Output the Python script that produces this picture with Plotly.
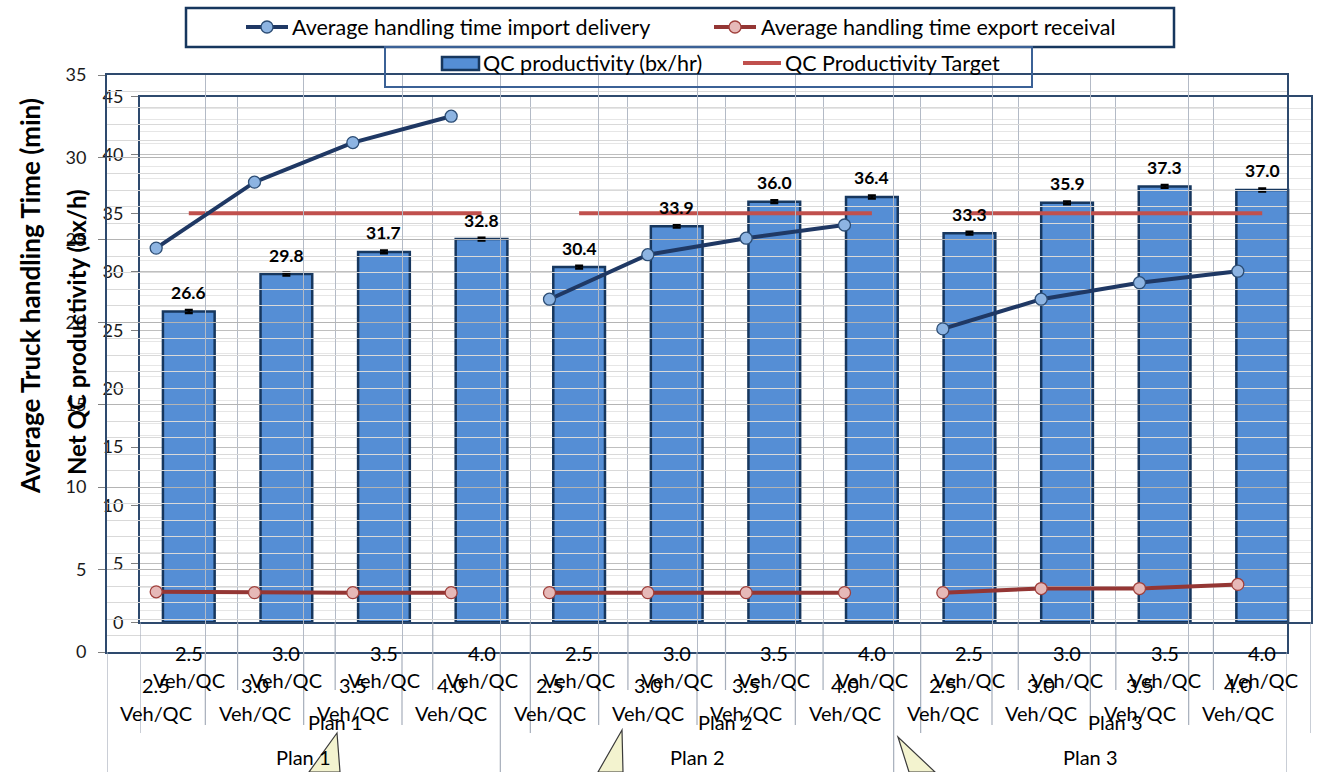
import plotly.graph_objects as go

# ---- data ----
plans = ["Plan 1", "Plan 2", "Plan 3"]
ratios = ["2.5", "3.0", "3.5", "4.0"]
ratio_unit = "Veh/QC"

qc_productivity = [26.6, 29.8, 31.7, 32.8, 30.4, 33.9, 36.0, 36.4, 33.3, 35.9, 37.3, 37.0]
qc_target = [35, 35, 35, 35, 35, 35, 35, 35, 35, 35, 35, 35]
import_delivery = [24.5, 28.5, 30.9, 32.5, 21.4, 24.1, 25.1, 25.9, 19.6, 21.4, 22.4, 23.1]
export_receival = [3.65, 3.6, 3.6, 3.6, 3.6, 3.6, 3.6, 3.6, 3.6, 3.85, 3.85, 4.1]

W, H = 1317, 772
FONT = "Lato, 'Noto Sans', sans-serif"


def fx(p):
    return p / W


def fy(p):
    return 1 - p / H


n_cat = len(plans) * len(ratios)
centers = [i + 0.5 for i in range(n_cat)]


def with_gaps(values):
    """Split a per-category series into one segment per plan."""
    xs, ys = [], []
    k = len(ratios)
    for p in range(len(plans)):
        xs += centers[p * k:(p + 1) * k] + [None]
        ys += values[p * k:(p + 1) * k] + [None]
    return xs, ys


fig = go.Figure()

# QC productivity bars (inner chart)
fig.add_trace(go.Bar(
    x=centers, y=qc_productivity, width=0.53,
    marker=dict(color="#558ED5", line=dict(color="#17375E", width=2.5)),
    error_y=dict(type="constant", value=0.12, color="black", thickness=2.5, width=4),
    name="QC productivity (bx/hr)", xaxis="x", yaxis="y", showlegend=False,
))
tx, ty = with_gaps(qc_target)
fig.add_trace(go.Scatter(
    x=tx, y=ty, mode="lines", line=dict(color="#C0504D", width=4),
    name="QC Productivity Target", xaxis="x", yaxis="y", showlegend=False,
))

# truck handling times (outer chart)
ix, iy = with_gaps(import_delivery)
fig.add_trace(go.Scatter(
    x=ix, y=iy, mode="lines+markers",
    line=dict(color="#1F3864", width=4),
    marker=dict(size=12, color="#8DB4E2", line=dict(color="#2C4D75", width=1.3)),
    name="Average handling time import delivery", xaxis="x2", yaxis="y2", showlegend=False,
))
ex, ey = with_gaps(export_receival)
fig.add_trace(go.Scatter(
    x=ex, y=ey, mode="lines+markers",
    line=dict(color="#943634", width=4),
    marker=dict(size=12, color="#E6B9B8", line=dict(color="#A0403C", width=1.3)),
    name="Average handling time export receival", xaxis="x2", yaxis="y2", showlegend=False,
))

annotations = []
shapes = []


def text(x, y, t, size, xref="paper", yref="paper", xanchor="center", **kw):
    annotations.append(dict(x=x, y=y, xref=xref, yref=yref, text=t, showarrow=False,
                            xanchor=xanchor, yanchor="middle",
                            font=dict(family=FONT, size=size, color="black"), **kw))


# value labels above the bars
for c, v in zip(centers, qc_productivity):
    text(c, v, f"<b>{v:.1f}</b>", 17.5, xref="x", yref="y", yshift=19)


# multi-level category labels and separators for both charts
def category_axis(xref, y_ratio, y_unit, y_plan, axis_px, inner_end, plan_end):
    k = len(ratios)
    for i in range(n_cat):
        text(centers[i], fy(y_ratio), ratios[i % k], 20, xref=xref)
        text(centers[i], fy(y_unit), ratio_unit, 20, xref=xref)
    for p, name in enumerate(plans):
        text(p * k + k / 2, fy(y_plan), name, 20, xref=xref)
    for b in range(n_cat + 1):
        end = plan_end if b % k == 0 else inner_end
        shapes.append(dict(type="line", xref=xref, yref="paper", x0=b, x1=b,
                           y0=fy(axis_px), y1=fy(end),
                           line=dict(color="#A6AEBB", width=1.2)))


category_axis("x", 653, 680, 722, 622.3, 690, 733)
category_axis("x2", 685, 713, 757, 652, 725, 772)

# axis titles
text(fx(30), fy(296), "<b>Average Truck handling Time (min)</b>", 26, textangle=-90)
text(fx(76), fy(332), "<b>Net QC productivity (bx/h)</b>", 24, textangle=-90)

# legend boxes
shapes.append(dict(type="rect", xref="paper", yref="paper", x0=fx(186), x1=fx(1174),
                   y0=fy(47), y1=fy(8), line=dict(color="#17375E", width=2.5),
                   fillcolor="rgba(0,0,0,0)", layer="above"))
shapes.append(dict(type="rect", xref="paper", yref="paper", x0=fx(385), x1=fx(1032),
                   y0=fy(87), y1=fy(47), line=dict(color="#3B6196", width=2),
                   fillcolor="rgba(0,0,0,0)", layer="above"))


# legend keys
def line_key(x0, x1, y, color, marker_fill=None, marker_line=None):
    shapes.append(dict(type="line", xref="paper", yref="paper", x0=fx(x0), x1=fx(x1),
                       y0=fy(y), y1=fy(y), line=dict(color=color, width=4), layer="above"))
    if marker_fill:
        xm = (x0 + x1) / 2
        shapes.append(dict(type="circle", xref="paper", yref="paper",
                           x0=fx(xm - 6), x1=fx(xm + 6), y0=fy(y + 6), y1=fy(y - 6),
                           fillcolor=marker_fill, line=dict(color=marker_line, width=1.3),
                           layer="above"))


line_key(246, 288, 27, "#1F3864", "#8DB4E2", "#2C4D75")
line_key(714, 756, 27, "#943634", "#E6B9B8", "#A0403C")
line_key(743, 781, 63, "#C0504D")
shapes.append(dict(type="rect", xref="paper", yref="paper", x0=fx(442), x1=fx(479),
                   y0=fy(70), y1=fy(57), fillcolor="#558ED5",
                   line=dict(color="#17375E", width=2.5), layer="above"))

legend_text = [
    (290, 27, "Average handling time import delivery"),
    (759, 27, "Average handling time export receival"),
    (481, 63, "QC productivity (bx/hr)"),
    (783, 63, "QC Productivity Target"),
]
for x, y, t in legend_text:
    text(fx(x), fy(y), t, 21.5, xanchor="left")


# callout pointers at the bottom
def callout(pts):
    d = "M " + " L ".join(f"{fx(a):.5f},{fy(b):.5f}" for a, b in pts) + " Z"
    shapes.append(dict(type="path", xref="paper", yref="paper", path=d,
                       fillcolor="#F3F3CF", line=dict(color="#3A3A3A", width=1.2),
                       layer="above"))


callout([(337, 733), (309, 772), (340, 772)])
callout([(622, 730), (598, 772), (623, 772)])
callout([(898, 737), (909, 772), (935, 772)])

tick_font = dict(family=FONT, size=18, color="#1A1A1A")
AX_LINE = "#2E4A6E"

fig.update_layout(
    width=W, height=H, template="none",
    margin=dict(l=0, r=0, t=0, b=0),
    paper_bgcolor="white", plot_bgcolor="rgba(0,0,0,0)",
    showlegend=False,
    bargap=0.47,
    xaxis=dict(domain=[fx(140), fx(1311)], range=[0, n_cat], anchor="y",
               tickmode="array", tickvals=list(range(n_cat + 1)), showticklabels=False,
               ticks="", showgrid=True, gridcolor="#B3BAC6", gridwidth=1,
               showline=True, linecolor=AX_LINE, linewidth=2, mirror=True,
               zeroline=False, automargin=False),
    yaxis=dict(domain=[fy(622.3), fy(96.5)], range=[0, 45], anchor="x",
               tickmode="linear", tick0=0, dtick=5, ticks="outside", ticklen=7,
               tickcolor="#7F7F7F", tickfont=tick_font, ticklabelstandoff=4,
               showgrid=True, gridcolor="#BFBFBF", gridwidth=1,
               minor=dict(dtick=1, showgrid=True, gridcolor="#E6E6E6", gridwidth=1),
               showline=True, linecolor=AX_LINE, linewidth=2, mirror=True,
               zeroline=False, automargin=False),
    xaxis2=dict(domain=[fx(107), fx(1287)], range=[0, n_cat], anchor="y2",
                tickmode="array", tickvals=list(range(n_cat + 1)), showticklabels=False,
                ticks="", showgrid=True, gridcolor="#B3BAC6", gridwidth=1,
                showline=True, linecolor=AX_LINE, linewidth=2, mirror=True,
                zeroline=False, automargin=False),
    yaxis2=dict(domain=[fy(652), fy(75)], range=[0, 35], anchor="x2",
                tickmode="linear", tick0=0, dtick=5, ticks="outside", ticklen=7,
                tickcolor="#7F7F7F", tickfont=tick_font, ticklabelstandoff=8,
                showgrid=True, gridcolor="#B4B4B4", gridwidth=1,
                minor=dict(dtick=1, showgrid=True, gridcolor="#D9D9D9", gridwidth=1),
                showline=True, linecolor=AX_LINE, linewidth=2, mirror=True,
                zeroline=False, automargin=False),
    annotations=annotations,
    shapes=shapes,
)

fig.write_html("out.html")
